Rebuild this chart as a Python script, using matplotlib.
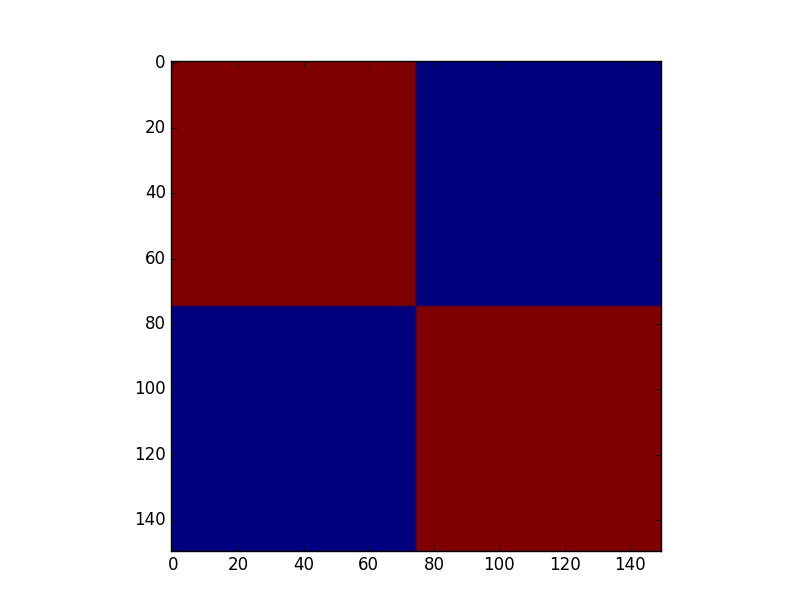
import numpy as np
import matplotlib
matplotlib.use("Agg")
import matplotlib.pyplot as plt

plt.style.use('classic')

# Block structure of the matrix
block_sizes = [75, 75]
block_values = [[1.0, 0.0],
                [0.0, 1.0]]

matrix = np.block([[np.full((block_sizes[i], block_sizes[j]), block_values[i][j])
                    for j in range(len(block_sizes))]
                   for i in range(len(block_sizes))])

fig = plt.figure(figsize=(8.12, 6.12), dpi=100)
ax = fig.add_subplot(111)
ax.imshow(matrix, cmap='jet', interpolation='bilinear', interpolation_stage='rgba')
fig.savefig('out.png', dpi=100)
